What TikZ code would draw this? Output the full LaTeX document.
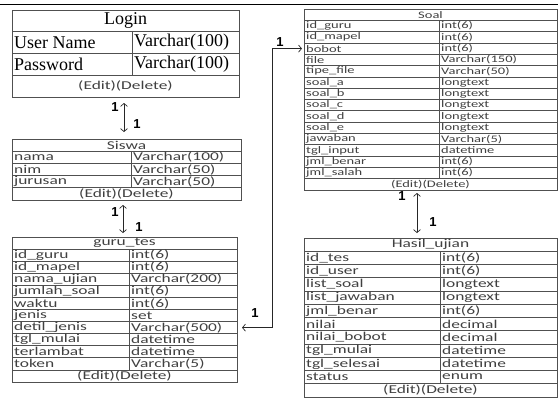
\documentclass[tikz,border=0pt]{standalone}
\usepackage{fontspec}
\setmainfont{Liberation Serif}
\newfontfamily\calfont[FakeStretch=1.45]{Carlito}
\newfontfamily\lblfont{Liberation Sans}
\usetikzlibrary{arrows.meta,fit,calc}

\newcommand{\erdtab}[9]{%
  \pgfmathsetmacro\erdrh{(#6-#5)/(#7+2)}%
  \node[tabbox, fit={(#2,#5) (#4,#6)}] (#1) {};
  \node[hdr] (#1-h) at ({(#2+#4)/2},{#5+0.5*\erdrh}) {#8};
  \draw[rowline] (#2,{#5+\erdrh}) -- (#4,{#5+\erdrh});
  \draw[rowline] (#3,{#5+\erdrh}) -- (#3,{#6-\erdrh});
  \foreach \fldname/\fldtype [count=\i] in {#9} {
    \pgfmathsetmacro\erdy{#5+(\i+0.5)*\erdrh}
    \node[fld, anchor=west] (#1-f\i) at (#2+2,\erdy) {\fldname};
    \node[fld, anchor=west] (#1-t\i) at (#3+2,\erdy) {\fldtype};
    \draw[rowline] (#2,{#5+(\i+1)*\erdrh}) -- (#4,{#5+(\i+1)*\erdrh});
  }
  \node[edt] (#1-e) at ({(#2+#4)/2},{#6-0.5*\erdrh}) {(Edit)(Delete)};
}

\definecolor{txtgray}{HTML}{404040}
\definecolor{linegray}{HTML}{505050}

\begin{document}
\begin{tikzpicture}[x=1pt,y=-1pt,
  tabbox/.style={draw=linegray, line width=0.8pt, inner sep=0pt, outer sep=0pt},
  rowline/.style={draw=linegray, line width=0.7pt},
  sansfld/.style={font=\calfont\fontsize{#1}{#1}\selectfont, text=txtgray, inner sep=0pt},
  fld/.style={sansfld=12},
  hdr/.style={sansfld=12},
  edt/.style={sansfld=12},
  rel/.style={draw=black!85, line width=0.7pt,
    {Straight Barb[length=3pt,width=7pt]}-{Straight Barb[length=3pt,width=7pt]}},
  lbl/.style={font=\lblfont\bfseries\fontsize{13}{13}\selectfont, inner sep=0pt}]
\useasboundingbox (0,0) rectangle (558,399);

\draw[line width=1.5pt] (0,4.5) -- (558,4.5);

% Login
\begin{scope}[fld/.style={font=\fontsize{18}{18}\selectfont, inner sep=0pt},
              hdr/.style={font=\fontsize{18}{18}\selectfont, inner sep=0pt}]
\erdtab{login}{12}{132}{239}{10}{97}{2}{Login}{User Name/Varchar(100), Password/Varchar(100)}
\end{scope}

% Siswa
\erdtab{siswa}{12}{131}{241}{139}{200}{3}{Siswa}{nama/Varchar(100), nim/Varchar(50), jurusan/Varchar(50)}

% guru_tes
\erdtab{guru}{12}{129}{237}{237}{382}{10}{guru\_tes}{id\_guru/int(6), id\_mapel/int(6), nama\_ujian/Varchar(200), jumlah\_soal/int(6), waktu/int(6), jenis/set, detil\_jenis/Varchar(500), tgl\_mulai/datetime, terlambat/datetime, token/Varchar(5)}

% Soal
\begin{scope}[fld/.style={sansfld=10}, hdr/.style={sansfld=10}, edt/.style={sansfld=10}]
\erdtab{soal}{304}{439}{557}{9}{190}{14}{Soal}{id\_guru/int(6), id\_mapel/int(6), bobot/int(6), file/Varchar(150), tipe\_file/Varchar(50), soal\_a/longtext, soal\_b/longtext, soal\_c/longtext, soal\_d/longtext, soal\_e/longtext, jawaban/Varchar(5), tgl\_input/datetime, jml\_benar/int(6), jml\_salah/int(6)}
\end{scope}

% Hasil_ujian
\erdtab{hasil}{304}{440}{557}{238}{397}{10}{Hasil\_ujian}{id\_tes/int(6), id\_user/int(6), list\_soal/longtext, list\_jawaban/longtext, jml\_benar/int(6), nilai/decimal, nilai\_bobot/decimal, tgl\_mulai/datetime, tgl\_selesai/datetime, status/enum}

% relations
\draw[rel, shorten <=6pt, shorten >=7pt] ([xshift=-1.5pt]login.south) -- ([xshift=-1.5pt]login.south |- siswa.north);
\node[lbl] (l1a) at (115,107) {1};
\node[lbl] (l1b) at (137,124) {1};

\draw[rel, shorten <=5pt, shorten >=4pt] ([xshift=-3.5pt]siswa.south) -- ([xshift=-3.5pt]siswa.south |- guru.north);
\node[lbl] (l2a) at (115,212) {1};
\node[lbl] (l2b) at (139,227) {1};

\draw[rel, shorten <=3pt, shorten >=5pt] ([xshift=-13.5pt]soal.south) -- ([xshift=-13.5pt]soal.south |- hasil.north);
\node[lbl] (l3a) at (402,196) {1};
\node[lbl] (l3b) at (433,222) {1};

\draw[rel, shorten <=2pt, shorten >=5pt] (soal.west |- soal-f3) -- ++(-32,0) |- (guru.east |- guru-f7);
\node[lbl] (l4a) at (280,42) {1};
\node[lbl] (l4b) at (255,313) {1};
\end{tikzpicture}
\end{document}
